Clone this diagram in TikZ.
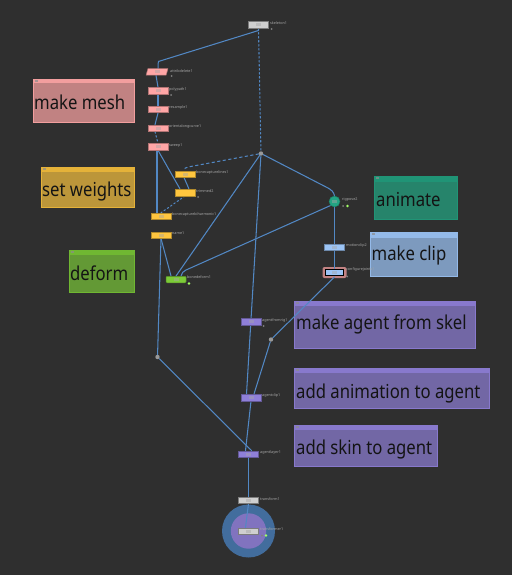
\documentclass[tikz,border=0pt]{standalone}
\usepackage{fontspec}
\setmainfont{Noto Sans}
\newfontfamily\notefont[FakeStretch=0.87]{Noto Sans}
\usetikzlibrary{backgrounds,calc}
\definecolor{bgc}{HTML}{2F2F2F}
\definecolor{edgec}{HTML}{5288C4}
\definecolor{pinkc}{HTML}{FFA6A6}
\definecolor{yelc}{HTML}{FFC63F}
\definecolor{grnc}{HTML}{7CCB38}
\definecolor{tealc}{HTML}{23A583}
\definecolor{bluec}{HTML}{9CC4F5}
\definecolor{purc}{HTML}{8F7FD8}
\definecolor{greyc}{HTML}{CFCFCF}
\tikzset{
  x=1pt,y=-1pt,
  nodebox/.style={rectangle,inner sep=0pt,minimum width=20pt,minimum height=6.5pt,line width=0.5pt},
  pinkbox/.style={nodebox,fill=pinkc,draw=pinkc!70!black},
  yelbox/.style={nodebox,fill=yelc,draw=yelc!70!black},
  grnbox/.style={nodebox,fill=grnc,draw=grnc!70!black},
  blubox/.style={nodebox,fill=bluec,draw=bluec!70!black},
  purbox/.style={nodebox,fill=purc,draw=purc!70!black},
  grybox/.style={nodebox,fill=greyc,draw=greyc!60!black},
  nlabel/.style={anchor=west,inner sep=0pt,text=black!35,font=\fontsize{3.7}{4.2}\selectfont},
  link/.style={draw=edgec,line width=1.05pt,line cap=round},
  dotlink/.style={link,dash pattern=on 1.6pt off 2.4pt},
  dashlink/.style={link,dash pattern=on 2.6pt off 3pt},
  joint/.style={circle,fill=black!40,inner sep=0pt,minimum size=4.4pt},
  flag/.style={circle,fill=black!50,inner sep=0pt,minimum size=2pt},
  flagon/.style={circle,fill=green!60!yellow!60!white,inner sep=0pt,minimum size=2.6pt},
  glyph/.style={rectangle,fill=black!35,opacity=0.45,inner sep=0pt,minimum width=5pt,minimum height=3pt},
  notetext/.style={anchor=west,inner sep=0pt,text=black!92,font=\notefont\fontsize{19.2}{20}\selectfont},
}
\newcommand{\sticky}[8]{% name,x0,y0,x1,y1,ybar,body,head
  \fill[#7] (#2,#3) rectangle (#4,#5);
  \draw[#8,line width=0.7pt] (#2,#3) rectangle (#4,#5);
  \fill[#8] (#2,#3) rectangle (#4,#6);
  \fill[black!45,opacity=.7] (#2+1.5,#3+1) rectangle (#2+5,#3+2.6);
}
\begin{document}
\begin{tikzpicture}
\useasboundingbox (0,0) rectangle (512,575);
% nodes
\node[grybox] (skel) at (258.5,25) {};
\node[pinkbox,xslant=0.28] (attr) at (157,72) {};
\node[pinkbox] (poly) at (158,90.7) {};
\node[pinkbox] (resa) at (158,109.5) {};
\node[pinkbox] (orie) at (158,128.2) {};
\node[pinkbox] (swee) at (158,146.8) {};
\node[yelbox] (bcap) at (185,174) {};
\node[yelbox] (trim) at (185,192.5) {};
\node[yelbox] (bhar) at (161,216.3) {};
\node[yelbox] (namn) at (161,235) {};
\node[grnbox,rounded corners=1pt] (bdef) at (176,279.5) {};
\node[joint] (jtop) at (261,153.5) {};
\node[circle,fill=tealc,draw=tealc!75!black,line width=.4pt,minimum size=11pt,inner sep=0pt] (rigp) at (334.5,201.5) {};
\node[blubox] (moti) at (334.5,247) {};
\node[blubox,draw=black,line width=.7pt,minimum width=18pt,minimum height=5.5pt] (conf) at (334.5,272.3) {};
\node[purbox] (apri) at (251,321.5) {};
\node[joint] (jmid) at (271,339.5) {};
\node[joint] (jlow) at (157.5,357) {};
\node[purbox] (acli) at (251,397.5) {};
\node[purbox] (alay) at (248.5,454) {};
\node[grybox] (trf) at (248.5,500) {};
\node[grybox] (tfm) at (248.5,531) {};
% node glyphs
\foreach \n in {skel,attr,poly,resa,orie,swee,bcap,bhar,namn,bdef,rigp,moti,conf,apri,acli,alay,trf,tfm}
  \node[glyph] (g\n) at (\n) {};
% labels
\node[nlabel] (lskel) at (270,23.5) {skeleton1};
\node[nlabel] (lattr) at (170,71) {attribdelete1};
\node[nlabel] (lpoly) at (169,89.5) {polypath1};
\node[nlabel] (lresa) at (169,107.5) {resample1};
\node[nlabel] (lorie) at (169,127) {orientalongcurve1};
\node[nlabel] (lswee) at (169,145.5) {sweep1};
\node[nlabel] (lbcap) at (196,173) {bonecapturelines1};
\node[nlabel] (ltrim) at (196,191.5) {trimmed2};
\node[nlabel] (lbhar) at (172,214.5) {bonecapturebiharmonic1};
\node[nlabel] (lnamn) at (172,233.5) {name1};
\node[nlabel] (lbdef) at (187,277.5) {bonedeform1};
\node[nlabel] (lrigp) at (342,199.5) {rigpose2};
\node[nlabel] (lmoti) at (346,246) {motionclip2};
\node[nlabel] (lconf) at (346,270) {configurejoints1};
\node[nlabel] (lapri) at (262,321) {agentfromrig1};
\node[nlabel] (lacli) at (262,396) {agentclip1};
\node[nlabel] (lalay) at (260,453) {agentlayer1};
\node[nlabel] (ltrf) at (260,499) {transform1};
\node[nlabel] (ltfm) at (260,529.5) {transformer1};
% display flags
\node[flag] (f1) at (271.5,29) {};
\node[flag] (f2) at (171.5,76) {};
\node[flag] (f3) at (171,95) {};
\node[flag] (f4) at (198,197) {};
\node[flagon] (f5) at (189,283.5) {};
\node[flag] (f6) at (343,206) {};
\node[flagon] (f7) at (347.5,206) {};
\node[flag] (f8) at (347,276.5) {};
\node[flag] (f9) at (263.5,326) {};
\node[flag] (f10) at (262,535.5) {};
\node[flagon] (f11) at (266,535.5) {};
% notes
\node[notetext] (nmesh) at (34,102) {make mesh};
\node[notetext] (nweig) at (42,192) {set weights};
\node[notetext] (ndefo) at (70,273) {deform};
\node[notetext] (nanim) at (376,200) {animate};
\node[notetext] (nclip) at (371.5,256) {make clip};
\node[notetext] (nmake) at (296,324) {make agent from skel};
\node[notetext] (nadda) at (296,393.5) {add animation to agent};
\node[notetext] (nadds) at (296,449.5) {add skin to agent};
\begin{scope}[on background layer]
  \fill[bgc] (0,0) rectangle (512,575);
  \sticky{a}{33}{79}{134}{122}{83.5}{fill=pinkc!70!bgc}{pinkc!95!black}
  \sticky{b}{41}{167}{134}{207}{172}{fill=yelc!68!bgc}{yelc!90!black}
  \sticky{c}{69}{250}{134}{292}{255}{fill=grnc!68!bgc}{grnc!90!black}
  \sticky{d}{374}{176}{457}{219}{182}{fill=tealc!72!bgc}{tealc!90!black}
  \sticky{e}{370}{232}{457}{276}{238}{fill=bluec!72!bgc}{bluec!95!black}
  \sticky{f}{294}{301}{475}{348}{306}{fill=purc!70!bgc}{purc!95!black}
  \sticky{g}{294}{368}{489}{408}{373}{fill=purc!70!bgc}{purc!95!black}
  \sticky{h}{294}{425}{437}{466}{430}{fill=purc!70!bgc}{purc!95!black}
  % transformer halo
  \fill[fill=edgec!80!black] (248.5,531) circle (26.5);
  \fill[fill=purc!85!bgc] (248.5,531) circle (17.7);
  % configure halo
  \fill[rounded corners=2pt,fill=pinkc!70!bgc] (322.5,267) rectangle (346.5,278);
  % connectors
  \draw[link] ([yshift=-2pt]skel.south) -- (160,61) to[out=165,in=75] (attr.north);
  \draw[dotlink] (skel.south) -- (jtop);
  \draw[link] (attr.south) -- (poly.north);
  \draw[link] (poly.south) -- (resa.north);
  \draw[link] (resa.south) -- ([xshift=-3pt]orie.north);
  \draw[dotlink] ([xshift=-3pt]orie.south) -- (swee.north);
  \draw[dashlink] (jtop) -- (188,167) to[out=190,in=90] ([xshift=-1pt]bcap.north);
  \draw[link] (swee.south) -- ([xshift=-5pt]trim.north);
  \draw[link] ([xshift=-1pt]bcap.south) -- ([xshift=4pt]trim.north);
  \draw[dotlink] (trim.south) -- (bhar.north);
  \draw[link] ([xshift=-1pt]swee.south) -- ([xshift=-4pt]bhar.north);
  \draw[link] (namn.south) -- (jlow);
  \draw[link] (jlow) -- ([xshift=3pt]alay.north);
  \draw[link] (namn.south) -- ([xshift=-5pt]bdef.north);
  \draw[link] (jtop) -- (bdef.north);
  \draw[link] (rigp.south west) -- (186,270) to[out=200,in=75] ([xshift=5pt]bdef.north);
  \draw[link] (jtop) -- (328,188) to[out=-30,in=100] (rigp.north);
  \draw[link] (rigp.south) -- (moti.north);
  \draw[link] (moti.south) -- (conf.north);
  \draw[link] ([yshift=-1.5pt]conf.south) -- (jmid);
  \draw[link] (jmid) -- ([xshift=3pt]acli.north);
  \draw[link] (jtop) -- ([xshift=-4.5pt]acli.north);
  \draw[link] (acli.south) -- ([xshift=-3pt]alay.north);
  \draw[link] (alay.south) -- (trf.north);
  \draw[link] (trf.south) -- ([xshift=-3pt]tfm.north);
\end{scope}
\end{tikzpicture}
\end{document}
